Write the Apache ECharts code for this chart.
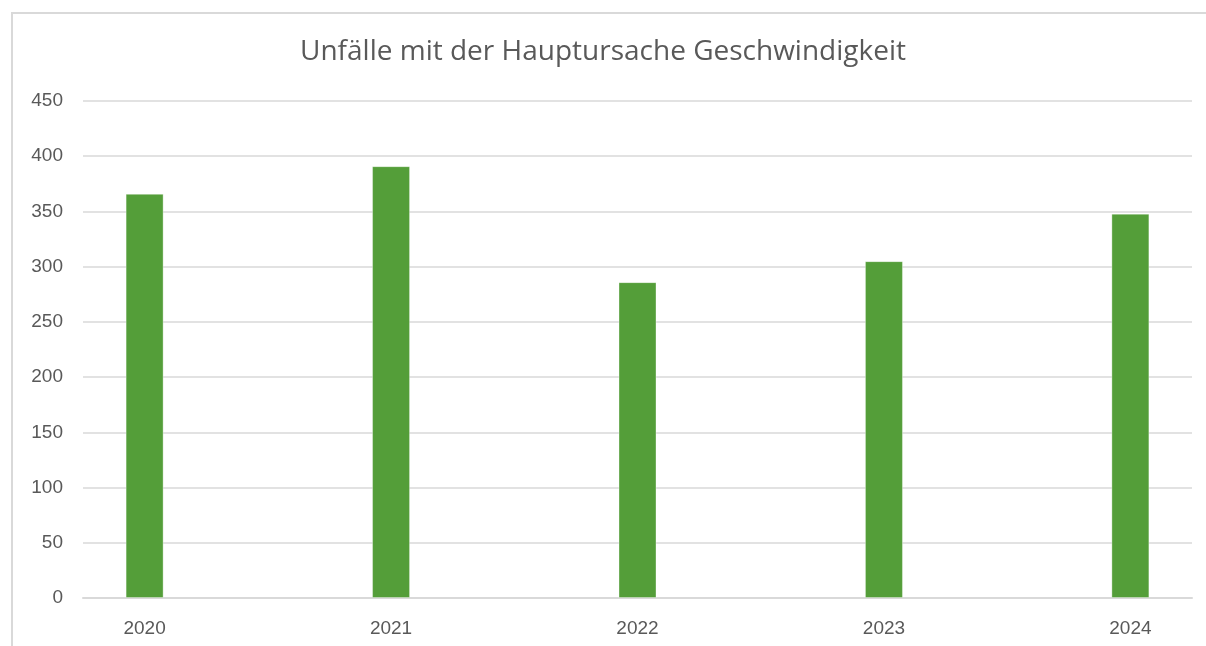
<!DOCTYPE html>
<html>
<head>
<meta charset="utf-8">
<script src="https://cdn.jsdelivr.net/npm/echarts@6/dist/echarts.min.js"></script>
<style>
html, body { margin: 0; padding: 0; background: #fff; }
#chart { width: 1206px; height: 646px; }
</style>
</head>
<body>
<div id="chart"></div>
<script>
var years = [2020, 2021, 2022, 2023, 2024];
var unfaelle = [366, 391, 286, 305, 348];
var yTicks = [0, 50, 100, 150, 200, 250, 300, 350, 400, 450];

var chart = echarts.init(document.getElementById('chart'));

var seriesData = years.map(function (y, i) { return [y, unfaelle[i]]; });

var option = {
    backgroundColor: '#fff',
    animation: false,
    title: {
        text: 'Unfälle mit der Hauptursache Geschwindigkeit',
        left: 'center',
        top: 33,
        textStyle: {
            fontFamily: 'Open Sans',
            fontWeight: 'normal',
            fontSize: 28,
            color: '#595959'
        }
    },
    graphic: [{
        type: 'rect',
        shape: { x: 12, y: 13, width: 1300, height: 700 },
        style: { fill: 'none', stroke: '#d9d9d9', lineWidth: 2 },
        silent: true
    }],
    grid: { left: 83, right: 14, top: 101, bottom: 48 },
    xAxis: {
        type: 'value',
        min: 2019.75,
        max: 2024.25,
        interval: 0.25,
        axisLine: { show: true, lineStyle: { color: '#d9d9d9', width: 2 } },
        axisTick: { show: false },
        splitLine: { show: false },
        axisLabel: {
            margin: 21,
            fontFamily: 'Liberation Sans',
            fontSize: 19,
            color: '#595959',
            formatter: function (v) {
                return years.indexOf(Math.round(v * 100) / 100) >= 0 ? String(v) : '';
            }
        }
    },
    yAxis: {
        type: 'value',
        min: yTicks[0],
        max: yTicks[yTicks.length - 1],
        interval: 50,
        axisLine: { show: false },
        axisTick: { show: false },
        splitLine: { lineStyle: { color: '#d9d9d9', width: 1.5 } },
        axisLabel: {
            margin: 20,
            fontFamily: 'Liberation Sans',
            fontSize: 19,
            color: '#595959'
        }
    },
    series: [{
        type: 'bar',
        data: seriesData,
        barWidth: 38,
        itemStyle: {
            color: '#549e39',
            borderColor: 'rgba(255,255,255,0.35)',
            borderWidth: 1
        }
    }]
};
chart.setOption(option);
</script>
</body>
</html>
